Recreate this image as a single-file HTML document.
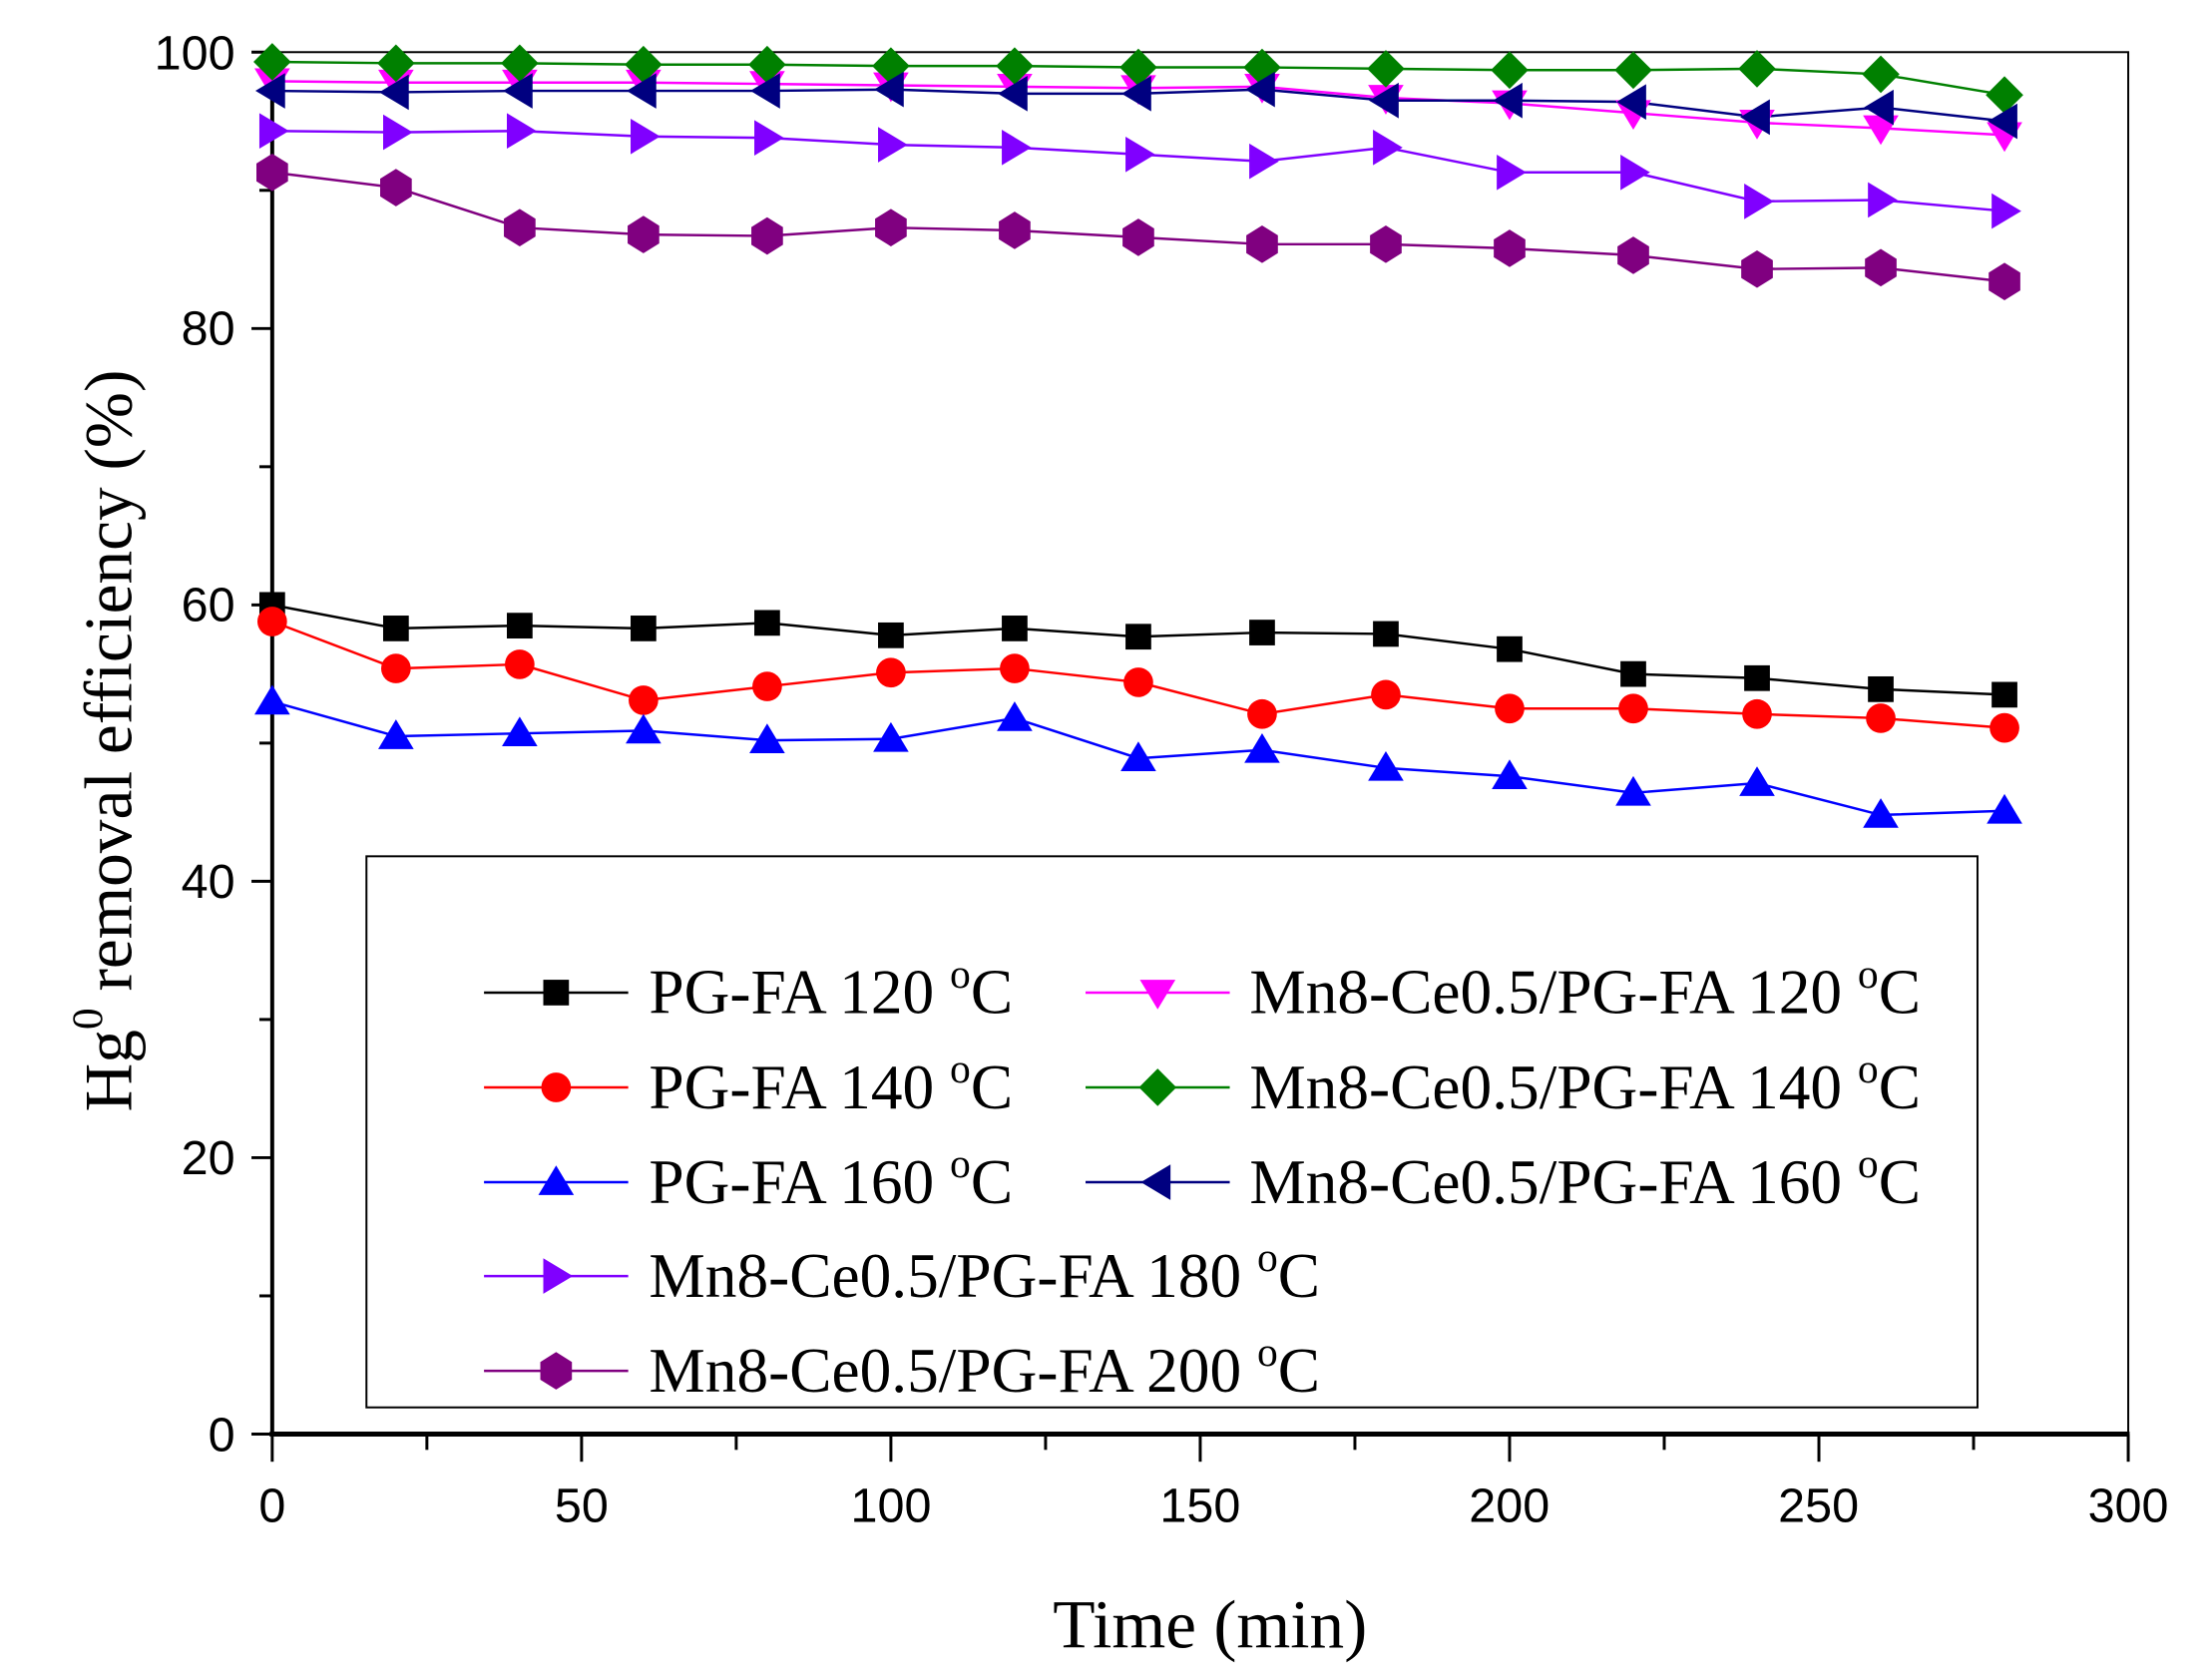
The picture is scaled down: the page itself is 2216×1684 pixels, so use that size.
<!DOCTYPE html>
<html><head><meta charset="utf-8"><style>html,body{margin:0;padding:0;background:#fff}svg{display:block}</style></head>
<body>
<svg id="s" width="2216" height="1684" viewBox="0 0 2216 1684" xmlns="http://www.w3.org/2000/svg">
<rect width="2216" height="1684" fill="#fff"/>
<g transform="scale(0.99)">
<rect x="275.6" y="52.8" width="1879" height="1399.2" fill="none" stroke="#000" stroke-width="2"/>
<line x1="275.6" y1="50" x2="275.6" y2="1454" stroke="#000" stroke-width="4"/>
<line x1="273" y1="1452" x2="2156" y2="1452" stroke="#000" stroke-width="5"/>
<g id="ticks" stroke="#000" stroke-width="3"></g>
<g font-family="Liberation Sans, sans-serif" font-size="49" fill="#000">
<text x="238" y="70" text-anchor="end">100</text>
<text x="238" y="349" text-anchor="end">80</text>
<text x="238" y="629" text-anchor="end">60</text>
<text x="238" y="909" text-anchor="end">40</text>
<text x="238" y="1189" text-anchor="end">20</text>
<text x="238" y="1469" text-anchor="end">0</text>
<text x="275.6" y="1541" text-anchor="middle">0</text>
<text x="588.8" y="1541" text-anchor="middle">50</text>
<text x="902" y="1541" text-anchor="middle">100</text>
<text x="1215" y="1541" text-anchor="middle">150</text>
<text x="1528" y="1541" text-anchor="middle">200</text>
<text x="1841" y="1541" text-anchor="middle">250</text>
<text x="2154.6" y="1541" text-anchor="middle">300</text>
</g>
<g font-family="Liberation Serif, serif" font-size="70" fill="#000">
<text x="1225" y="1668" text-anchor="middle">Time (min)</text>
<text transform="translate(133,750) rotate(-90)" text-anchor="middle" font-size="68">Hg<tspan dy="-30" font-size="44">0</tspan><tspan dy="30"> removal efficiency (%)</tspan></text>
</g>
<rect x="371" y="867" width="1631" height="558" fill="none" stroke="#000" stroke-width="2"/>
<g id="data"></g>
<g id="leg"></g>
<g font-family="Liberation Serif, serif" font-size="64" fill="#000">
<text x="657" y="1026">PG-FA 120 <tspan dy="-26" font-size="42">o</tspan><tspan dy="26">C</tspan></text>
<text x="657" y="1122">PG-FA 140 <tspan dy="-26" font-size="42">o</tspan><tspan dy="26">C</tspan></text>
<text x="657" y="1218">PG-FA 160 <tspan dy="-26" font-size="42">o</tspan><tspan dy="26">C</tspan></text>
<text x="657" y="1313">Mn8-Ce0.5/PG-FA 180 <tspan dy="-26" font-size="42">o</tspan><tspan dy="26">C</tspan></text>
<text x="657" y="1409">Mn8-Ce0.5/PG-FA 200 <tspan dy="-26" font-size="42">o</tspan><tspan dy="26">C</tspan></text>
<text x="1265" y="1026">Mn8-Ce0.5/PG-FA 120 <tspan dy="-26" font-size="42">o</tspan><tspan dy="26">C</tspan></text>
<text x="1265" y="1122">Mn8-Ce0.5/PG-FA 140 <tspan dy="-26" font-size="42">o</tspan><tspan dy="26">C</tspan></text>
<text x="1265" y="1218">Mn8-Ce0.5/PG-FA 160 <tspan dy="-26" font-size="42">o</tspan><tspan dy="26">C</tspan></text>
</g>
</g>
</svg>
<script>
var NS="http://www.w3.org/2000/svg";
function el(p,t,a){var e=document.createElementNS(NS,t);for(var k in a)e.setAttribute(k,a[k]);p.appendChild(e);return e;}
function X(v){return 275.6+v*(1879/300);}
function Y(v){return 1452-v*13.992;}
var tk=document.getElementById('ticks');
for(var v=0;v<=100;v+=10){var L=(v%20==0)?21:13;el(tk,'line',{x1:275.6-L,y1:Y(v),x2:275.6,y2:Y(v)});}
for(var v=0;v<=300;v+=25){var L=(v%50==0)?28:16;el(tk,'line',{x1:X(v),y1:1452,x2:X(v),y2:1452+L});}
var S=[
["#000","sq",[60,58.3,58.5,58.3,58.7,57.8,58.3,57.7,58,57.9,56.8,55,54.7,53.9,53.5]],
["#f00","ci",[58.8,55.4,55.7,53.1,54.1,55.1,55.4,54.4,52.1,53.5,52.5,52.5,52.1,51.8,51.1]],
["#00f","tu",[53,50.5,50.7,50.9,50.2,50.3,51.8,48.9,49.5,48.2,47.6,46.4,47.1,44.8,45.1]],
["#f0f","td",[97.9,97.8,97.8,97.8,97.7,97.6,97.5,97.4,97.5,96.7,96.3,95.6,94.9,94.5,94]],
["#008000","di",[99.3,99.2,99.2,99.1,99.1,99,99,98.9,98.9,98.8,98.7,98.7,98.8,98.4,96.9]],
["#000080","tl",[97.2,97.1,97.2,97.2,97.2,97.3,97,97,97.3,96.5,96.5,96.4,95.3,96,95]],
["#8000ff","tr",[94.3,94.2,94.3,93.9,93.8,93.3,93.1,92.6,92.1,93.1,91.3,91.3,89.2,89.3,88.5]],
["#800080","hx",[91.3,90.2,87.3,86.8,86.7,87.3,87.1,86.6,86.1,86.1,85.8,85.3,84.3,84.4,83.4]]];
function mk(g,t,x,y,c){var p;
 if(t=="sq")el(g,'rect',{x:x-13,y:y-13,width:26,height:26,fill:c});
 else if(t=="ci")el(g,'circle',{cx:x,cy:y,r:15,fill:c});
 else{ if(t=="tu")p=[[0,-17],[18,13],[-18,13]];
  else if(t=="td")p=[[0,17],[18,-13],[-18,-13]];
  else if(t=="tl")p=[[-17,0],[13,-18],[13,18]];
  else if(t=="tr")p=[[17,0],[-13,-18],[-13,18]];
  else if(t=="di")p=[[0,-19],[19,0],[0,19],[-19,0]];
  else p=[[0,-19],[16,-9],[16,9],[0,19],[-16,9],[-16,-9]];
  el(g,'polygon',{points:p.map(function(q){return (x+q[0])+','+(y+q[1]);}).join(' '),fill:c});}
}
var d=document.getElementById('data');
S.forEach(function(s){var pts=s[2].map(function(v,i){return X(i*20)+','+Y(v);}).join(' ');
 el(d,'polyline',{points:pts,fill:'none',stroke:s[0],'stroke-width':2.5});});
S.forEach(function(s){s[2].forEach(function(v,i){mk(d,s[1],X(i*20),Y(v),s[0]);});});
var lg=document.getElementById('leg');
var pos=[[490,1005],[490,1101],[490,1197],[1099,1005],[1099,1101],[1099,1197],[490,1292],[490,1388]];
S.forEach(function(s,i){var x=pos[i][0],y=pos[i][1];
 el(lg,'line',{x1:x,y1:y,x2:x+146,y2:y,stroke:s[0],'stroke-width':2.5});mk(lg,s[1],x+73,y,s[0]);});
</script>
</body></html>
